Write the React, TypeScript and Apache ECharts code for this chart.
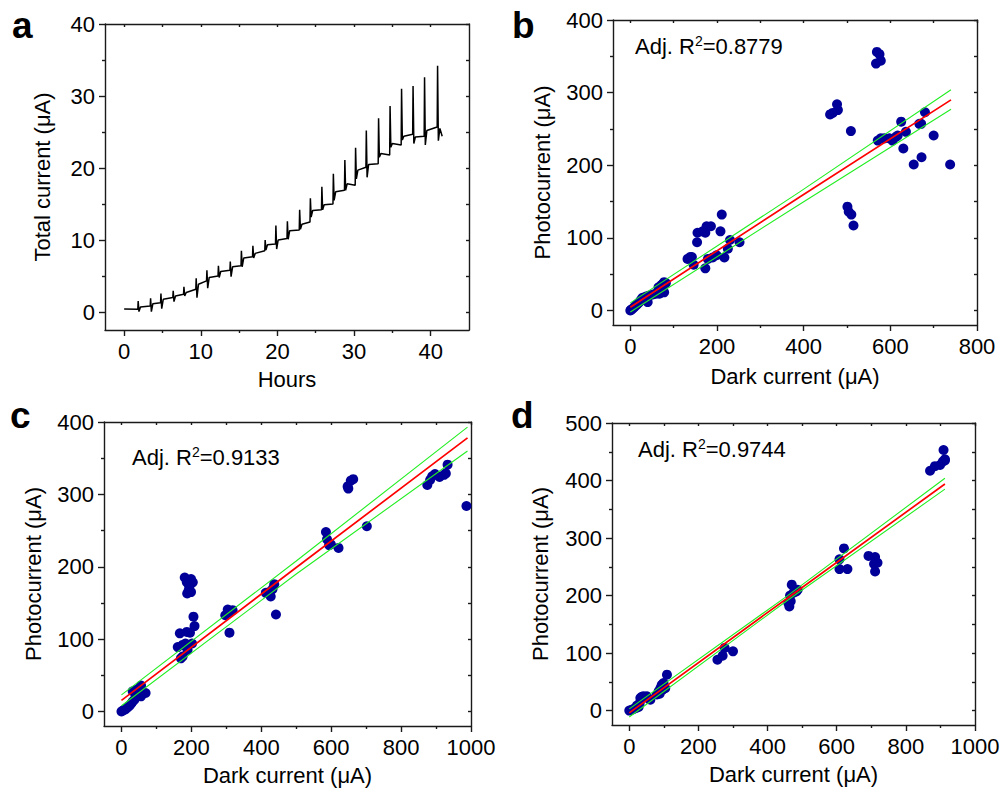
import React, { useEffect, useRef } from "react";
import * as echarts from "echarts";

const FONT = "Arial, 'Liberation Sans', sans-serif";

// ---------- Panel a: total current vs hours ----------
const aStart: [number, number] = [0, 0.4];
const aEnd: [number, number] = [41.5, 24.4];
const aSpikeHours = [1.83, 3.45, 4.8, 6.4, 7.8, 9.4, 10.8, 12.3, 13.85, 15.3, 16.8, 18.4, 19.8, 21.3, 22.9, 24.3, 25.8, 27.3, 28.8, 30.2, 31.6, 33.2, 34.7, 36.2, 37.7, 39.2, 40.9];
const aPre = [0.37, 0.84, 1.3, 2.0, 2.47, 3.16, 4.33, 5.0, 5.81, 6.42, 7.67, 8.5, 9.44, 10.2, 11.4, 12.5, 14.2, 15.0, 16.9, 17.6, 20.1, 20.6, 21.8, 23.2, 24.7, 24.4, 25.7];
const aPeak = [1.53, 1.9, 2.56, 2.93, 3.49, 4.7, 5.81, 6.42, 7.0, 8.5, 9.2, 10.0, 12.0, 12.6, 14.2, 15.8, 17.4, 19.2, 21.1, 22.8, 25.2, 26.9, 28.6, 31.0, 31.4, 32.6, 34.2];
const aDip = [0.05, 0.05, 0.47, 1.44, 2.23, 2.0, 3.3, 4.8, 4.9, 6.28, 7.49, 8.6, 8.74, 10.1, 11.5, 13.2, 14.2, 15.5, 16.9, 18.5, 18.7, 21.5, 22.9, 23.9, 23.4, 23.2, 23.8];
const aPost = [0.7, 1.16, 1.77, 2.23, 2.7, 3.86, 4.8, 5.63, 6.28, 7.49, 8.14, 9.35, 10.0, 11.3, 12.2, 14.1, 14.9, 16.7, 17.8, 19.7, 20.5, 22.0, 23.4, 24.4, 24.3, 25.2, 25.5];

// ---------- Panel b ----------
const bPoints: [number, number][] = [
  [0, 0], [1.5, 0.9], [5, 2.3], [9, 4.6], [13, 6.9], [17, 9.2], [21, 11.5], [25, 14.7], [28, 17.5], [36, 19.3],
  [40, 11.5], [44, 20.7], [52, 22], [59, 23], [63, 25], [65, 32], [71, 34.5], [75, 36.8], [78, 39], [82, 37.7],
  [78, 25], [67, 23],
  [132, 71], [138, 73.6], [142, 73.6], [146, 63], [154, 94], [155, 107], [167, 109], [173, 107], [176, 116], [186, 116],
  [173, 58], [179, 71], [190, 73], [199, 76], [208, 109], [211, 132], [217, 73], [225, 85], [230, 97], [252, 94],
  [461, 270], [467, 272], [477, 284], [479, 276], [509, 247],
  [501, 143], [504, 136], [510, 132], [515, 117],
  [567, 340], [569, 356], [575, 353], [578, 344],
  [571, 234], [578, 237], [586, 237], [598, 237], [605, 234], [613, 239], [617, 241], [625, 260], [630, 223], [636, 246],
  [654, 201], [667, 257], [671, 257], [672, 211], [680, 273], [700, 241], [738, 201],
];
const bFitX = [0, 390, 740];
const bFit = [4.5, 156, 290];
const bUpper = [10.5, 163, 304];
const bLower = [-2, 146, 277];

// ---------- Panel c ----------
const cPoints: [number, number][] = [
  [0, 0], [4, 1.4], [9, 2.7], [13, 3.7], [18, 6], [23, 8], [28, 11], [32, 13.7], [37, 16.4], [42, 22], [47, 28], [51, 32],
  [56, 36], [50, 23], [56, 21], [61, 25.6], [69, 25.6], [42, 30], [32, 28],
  [161, 89], [170, 73.5], [175, 76], [167, 108], [175, 92], [183, 94], [187, 110], [196, 109], [189, 85], [202, 94],
  [206, 131], [209, 118], [181, 185], [187, 178.5], [192, 167], [188, 163], [199, 183], [204, 178.5], [199, 165], [194, 172],
  [297, 133], [304, 141], [309, 137], [318, 140], [309, 109],
  [413, 164], [423, 165], [427, 159], [432, 169], [437, 176], [442, 134],
  [585, 248], [588, 238], [594, 230], [599, 231], [621, 226],
  [647, 311], [649, 308], [656, 319], [663, 321], [702, 256],
  [875, 313], [883, 320], [889, 325], [897, 328], [910, 324], [923, 327], [928, 329], [933, 341], [987, 284],
];
const cFitX = [0, 500, 990];
const cFit = [15.5, 199, 378];
const cUpper = [23, 208, 393];
const cLower = [8, 190, 360];

// ---------- Panel d ----------
const dPoints: [number, number][] = [
  [0, 0], [8, 1.7], [12.5, 3], [20, 4.6], [27, 6.4], [32, 22], [36, 24], [41, 25], [46, 24], [51, 25], [57, 20], [61, 19],
  [30, 13], [22, 8.7],
  [80, 28], [85, 33.6], [90, 39], [94, 45], [99, 48], [104, 39], [109, 62.5], [97, 36.5], [88, 29.5],
  [255, 88.5], [270, 95.5], [276, 109], [300, 103],
  [463, 181], [467, 190], [465, 200], [470, 219], [475, 205], [483, 207], [487, 210], [460, 187],
  [608, 263], [621, 282], [608, 246], [631, 246],
  [692, 269], [711, 267], [708, 255], [718, 257], [711, 242],
  [870, 417], [884, 425], [899, 427], [907, 433], [913, 437], [909, 453], [913, 435],
];
const dFitX = [0, 456, 913];
const dFit = [-4, 195, 394];
const dUpper = [3, 199, 404];
const dLower = [-11, 191, 385];

// ---------- Axis ticks ----------
const aXMajor = [0, 10, 20, 30, 40];
const aXMinor = [5, 15, 25, 35];
const aYMajor = [0, 10, 20, 30, 40];
const aYMinor = [5, 15, 25, 35];
const bXMajor = [0, 200, 400, 600, 800];
const bXMinor = [100, 300, 500, 700];
const bYMajor = [0, 100, 200, 300, 400];
const bYMinor = [50, 150, 250, 350];
const cXMajor = [0, 200, 400, 600, 800, 1000];
const cXMinor = [100, 300, 500, 700, 900];
const cYMajor = [0, 100, 200, 300, 400];
const cYMinor = [50, 150, 250, 350];
const dXMajor = [0, 200, 400, 600, 800, 1000];
const dXMinor = [100, 300, 500, 700, 900];
const dYMajor = [0, 100, 200, 300, 400, 500];
const dYMinor = [50, 150, 250, 350, 450];

const grids = [
  { left: 105, top: 24, width: 364, height: 306 },
  { left: 613, top: 20, width: 364, height: 305 },
  { left: 104, top: 422, width: 367, height: 304 },
  { left: 612, top: 423, width: 363, height: 302 },
];

const panels = [
  { xMin: -2.5, xMax: 45, yMin: -2.5, yMax: 40, xMaj: aXMajor, xMin2: aXMinor, yMaj: aYMajor, yMin2: aYMinor, xName: "Hours", yName: "Total current (\u03bcA)", xGap: 38, yGap: 52 },
  { xMin: -40, xMax: 800, yMin: -20, yMax: 400, xMaj: bXMajor, xMin2: bXMinor, yMaj: bYMajor, yMin2: bYMinor, xName: "Dark current (\u03bcA)", yName: "Photocurrent (\u03bcA)", xGap: 40, yGap: 60 },
  { xMin: -50, xMax: 1000, yMin: -20, yMax: 400, xMaj: cXMajor, xMin2: cXMinor, yMaj: cYMajor, yMin2: cYMinor, xName: "Dark current (\u03bcA)", yName: "Photocurrent (\u03bcA)", xGap: 38, yGap: 60 },
  { xMin: -50, xMax: 1000, yMin: -25, yMax: 500, xMaj: dXMajor, xMin2: dXMinor, yMaj: dYMajor, yMin2: dYMinor, xName: "Dark current (\u03bcA)", yName: "Photocurrent (\u03bcA)", xGap: 38, yGap: 61 },
];

function buildTimeSeries(): [number, number][] {
  const out: [number, number][] = [aStart];
  for (let i = 0; i < aSpikeHours.length; i++) {
    const t = aSpikeHours[i];
    out.push([t - 0.05, aPre[i]]);
    out.push([t, aPeak[i]]);
    out.push([t + 0.1, aDip[i]]);
    out.push([t + 0.3, aPost[i]]);
  }
  out.push(aEnd);
  return out;
}

function zip(xs: number[], ys: number[]): [number, number][] {
  return xs.map((x, i) => [x, ys[i]]);
}

const lineCol = "#1a1a1a";
const FS = 22;
const fmt = (v: number) => String(v);

function buildAxes() {
  const xAxis: any[] = [];
  const yAxis: any[] = [];
  panels.forEach((p, g) => {
    const ls = { color: lineCol, width: 1.4 };
    xAxis.push({
      type: "value", gridIndex: g, position: "bottom", min: p.xMin, max: p.xMax,
      name: p.xName, nameLocation: "middle", nameGap: p.xGap,
      nameTextStyle: { fontSize: FS, color: "#000", fontFamily: FONT },
      axisLine: { show: true, onZero: false, lineStyle: ls },
      axisTick: { show: true, inside: false, length: 6, customValues: p.xMaj, lineStyle: ls },
      axisLabel: { show: true, customValues: p.xMaj, formatter: fmt, margin: 10, fontSize: FS, color: "#000", fontFamily: FONT },
      splitLine: { show: false },
    });
    xAxis.push({
      type: "value", gridIndex: g, position: "bottom", min: p.xMin, max: p.xMax,
      axisLine: { show: false, onZero: false },
      axisTick: { show: true, inside: false, length: 3, customValues: p.xMin2, lineStyle: ls },
      axisLabel: { show: false },
      splitLine: { show: false },
    });
    xAxis.push({
      type: "value", gridIndex: g, position: "top", min: p.xMin, max: p.xMax,
      axisLine: { show: true, onZero: false, lineStyle: ls },
      axisTick: { show: true, inside: true, length: 3, customValues: [...p.xMaj, ...p.xMin2], lineStyle: ls },
      axisLabel: { show: false },
      splitLine: { show: false },
    });
    yAxis.push({
      type: "value", gridIndex: g, position: "left", min: p.yMin, max: p.yMax,
      name: p.yName, nameLocation: "middle", nameGap: p.yGap,
      nameTextStyle: { fontSize: FS, color: "#000", fontFamily: FONT },
      axisLine: { show: true, onZero: false, lineStyle: ls },
      axisTick: { show: true, inside: false, length: 6, customValues: p.yMaj, lineStyle: ls },
      axisLabel: { show: true, customValues: p.yMaj, formatter: fmt, margin: 10, fontSize: FS, color: "#000", fontFamily: FONT },
      splitLine: { show: false },
    });
    yAxis.push({
      type: "value", gridIndex: g, position: "left", min: p.yMin, max: p.yMax,
      axisLine: { show: false, onZero: false },
      axisTick: { show: true, inside: false, length: 3, customValues: p.yMin2, lineStyle: ls },
      axisLabel: { show: false },
      splitLine: { show: false },
    });
    yAxis.push({
      type: "value", gridIndex: g, position: "right", min: p.yMin, max: p.yMax,
      axisLine: { show: true, onZero: false, lineStyle: ls },
      axisTick: { show: true, inside: true, length: 3, customValues: [...p.yMaj, ...p.yMin2], lineStyle: ls },
      axisLabel: { show: false },
      splitLine: { show: false },
    });
  });
  return { xAxis, yAxis };
}

const dotColor = "#000099";

function scatterPanel(g: number, pts: [number, number][], fx: number[], fit: number[], up: number[], lo: number[]) {
  const ax = { xAxisIndex: g * 3, yAxisIndex: g * 3 };
  return [
    { type: "scatter", ...ax, data: pts, symbol: "circle", symbolSize: 10, itemStyle: { color: dotColor, opacity: 1 }, z: 2 },
    { type: "line", ...ax, data: zip(fx, up), showSymbol: false, symbol: "none", lineStyle: { color: "#22ee22", width: 1.1 }, z: 3 },
    { type: "line", ...ax, data: zip(fx, lo), showSymbol: false, symbol: "none", lineStyle: { color: "#22ee22", width: 1.1 }, z: 3 },
    { type: "line", ...ax, data: zip(fx, fit), showSymbol: false, symbol: "none", lineStyle: { color: "#ff0000", width: 1.7 }, z: 4 },
  ];
}

function r2Text(x: number, y: number, val: string) {
  return {
    type: "text", x, y,
    style: {
      text: "Adj. R{sup|2}=" + val,
      fontSize: 22, fontFamily: FONT, fill: "#000", verticalAlign: "middle",
      rich: { sup: { fontSize: 14, fontFamily: FONT, fill: "#000", verticalAlign: "top", lineHeight: 24 } },
    },
  };
}

function letter(x: number, y: number, t: string) {
  return { type: "text", x, y, style: { text: t, fontSize: 37, fontWeight: "bold", fontFamily: FONT, fill: "#000", verticalAlign: "middle" } };
}

export default function App() {
  const ref = useRef<HTMLDivElement>(null);
  useEffect(() => {
    if (!ref.current) return;
    const chart = echarts.init(ref.current, undefined, { renderer: "svg" });
    const { xAxis, yAxis } = buildAxes();
    chart.setOption({
      animation: false,
      backgroundColor: "#fff",
      grid: grids.map((g) => ({ ...g, containLabel: false })),
      xAxis,
      yAxis,
      series: [
        { type: "line", xAxisIndex: 0, yAxisIndex: 0, data: buildTimeSeries(), showSymbol: false, symbol: "none", lineStyle: { color: "#000", width: 1.5 } },
        ...scatterPanel(1, bPoints, bFitX, bFit, bUpper, bLower),
        ...scatterPanel(2, cPoints, cFitX, cFit, cUpper, cLower),
        ...scatterPanel(3, dPoints, dFitX, dFit, dUpper, dLower),
      ],
      graphic: [
        letter(12, 25, "a"),
        letter(512, 25, "b"),
        letter(10, 415, "c"),
        letter(511, 415, "d"),
        r2Text(635, 46, "0.8779"),
        r2Text(132, 457, "0.9133"),
        r2Text(638, 449, "0.9744"),
      ],
    });
    return () => chart.dispose();
  }, []);
  return <div ref={ref} style={{ position: "fixed", left: 0, top: 0, width: 1004, height: 796, background: "#fff" }} />;
}
